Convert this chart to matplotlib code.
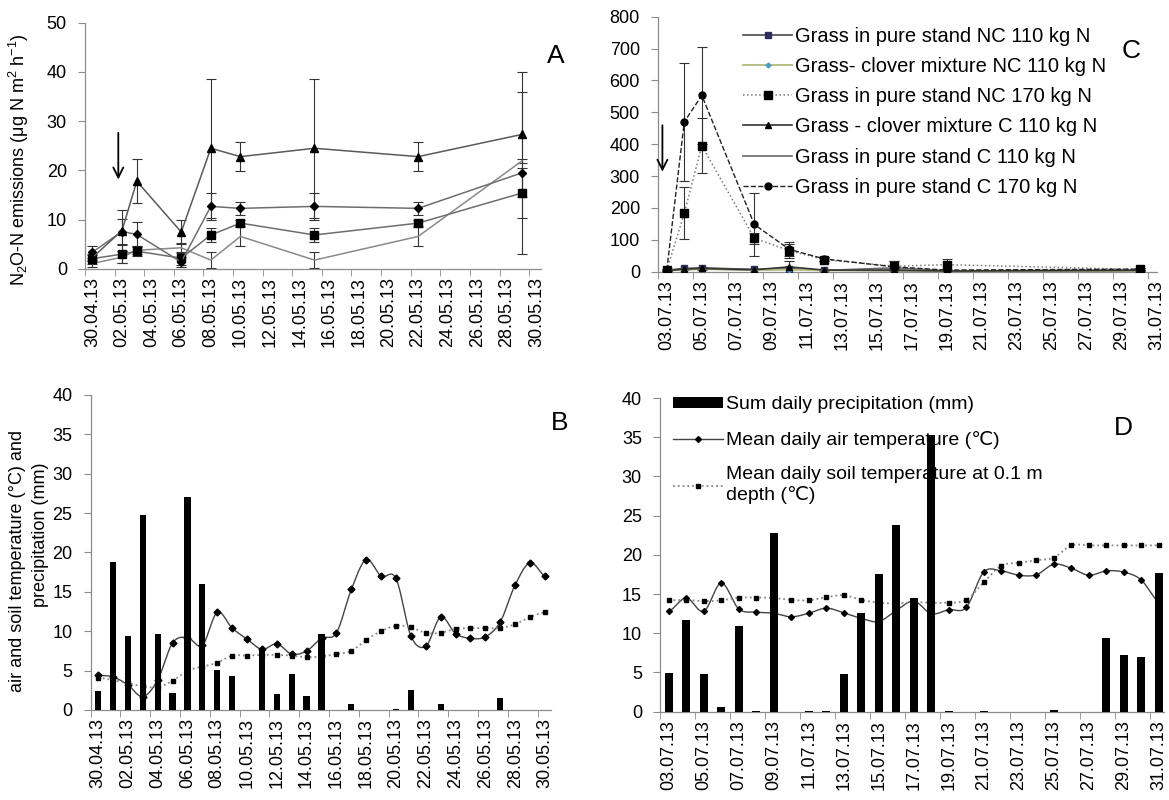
import matplotlib
matplotlib.use('Agg')
import matplotlib.pyplot as plt
import numpy as np
import pandas as pd
from matplotlib.patches import Patch
from matplotlib.lines import Line2D

plt.rcParams['font.family'] = ['Liberation Sans', 'DejaVu Sans']
plt.rcParams['mathtext.fontset'] = 'custom'
plt.rcParams['mathtext.rm'] = 'Liberation Sans'
plt.rcParams['mathtext.it'] = 'Liberation Sans:italic'

# ---- panel A: N2O-N emissions, spring
a_dates = ['30.04.13', '02.05.13', '03.05.13', '06.05.13', '08.05.13',
           '10.05.13', '15.05.13', '22.05.13', '29.05.13']
a_clover_c110 = [2.3, 7.8, 17.8, 7.5, 24.5, 22.8, 24.5, 22.8, 27.3]
a_clover_c110_err = [0.6, 4.2, 4.5, 2.5, 14.1, 2.9, 14.1, 2.9, 12.6]
a_pure_c170 = [3.4, 7.6, 7.0, 1.4, 12.7, 12.3, 12.7, 12.3, 19.5]
a_pure_c170_err = [1.2, 2.6, 2.5, 1.0, 2.7, 1.3, 2.7, 1.3, 16.5]
a_pure_nc170 = [2.1, 3.0, 3.6, 2.2, 6.9, 9.3, 6.9, 9.3, 15.4]
a_pure_nc170_err = [1.0, 1.8, 1.0, 1.3, 1.5, 0.6, 1.5, 0.6, 5.0]
a_pure_c110 = [1.1, 2.4, 3.8, 4.3, 1.8, 6.6, 1.8, 6.6, 21.9]
a_pure_c110_err = [0.8, 1.2, 0.8, 1.0, 1.6, 1.9, 1.6, 1.9, 0.4]

# ---- panel C: N2O-N emissions, summer
c_dates = ['03.07.13', '04.07.13', '05.07.13', '08.07.13', '10.07.13',
           '12.07.13', '16.07.13', '19.07.13', '30.07.13']
c_pure_nc110 = [5, 10, 12, 7, 8, 5, 3, 2, 5]
c_clover_nc110 = [4, 6, 8, 5, 6, 4, 4, 2, 3]
c_pure_nc170 = [5, 183, 395, 105, 66, 38, 17, 22, 7]
c_pure_nc170_err = [2, 82, 87, 17, 22, 5, 15, 18, 3]
c_clover_c110 = [3, 8, 10, 6, 15, 5, 5, 2, 4]
c_clover_c110_err = [1, 3, 4, 2, 20, 2, 3, 1, 2]
c_pure_c110 = [4, 7, 9, 5, 8, 4, 12, 3, 3]
c_pure_c170 = [5, 470, 553, 148, 70, 40, 15, 5, 8]
c_pure_c170_err = [2, 185, 152, 98, 22, 5, 18, 3, 3]
c_labels = ['Grass in pure stand NC 110 kg N',
            'Grass- clover mixture NC 110 kg N',
            'Grass in pure stand NC 170 kg N',
            'Grass - clover mixture C 110 kg N',
            'Grass in pure stand C 110 kg N',
            'Grass in pure stand C 170 kg N']

# ---- panel B: weather 30.04 - 30.05 (daily)
b_precip = [2.4, 18.8, 9.4, 24.7, 9.6, 2.2, 27.0, 16.0, 5.1, 4.3, 0.05, 7.8,
            2.0, 4.6, 1.8, 9.6, 0.05, 0.8, 0, 0, 0.1, 2.5, 0.05, 0.8, 0.05,
            0, 0, 1.5, 0.05, 0, 0]
b_air = [4.4, 4.2, 3.2, 1.7, 3.8, 8.5, 9.2, 8.2, 12.4, 10.4, 9.0, 7.7, 8.4,
         7.1, 7.5, 9.1, 9.8, 15.3, 19.1, 17.0, 16.7, 9.4, 8.1, 11.8, 9.7,
         9.1, 9.3, 11.2, 15.9, 18.7, 17.0]
b_soil = [4.1, 3.8, 3.4, 3.0, 2.9, 3.7, 5.0, 5.5, 6.0, 6.9, 6.9, 7.0, 7.0,
          6.9, 6.7, 6.8, 7.1, 7.5, 8.9, 10.0, 10.7, 10.5, 9.8, 9.8, 10.3,
          10.4, 10.4, 10.4, 10.9, 11.8, 12.4]

# ---- panel D: weather 03.07 - 31.07 (daily)
d_precip = [4.9, 11.7, 4.8, 0.6, 10.9, 0.05, 22.8, 0, 0.05, 0.1, 4.8, 12.6,
            17.6, 23.8, 14.5, 35.3, 0.05, 0, 0.05, 0, 0, 0, 0.2, 0, 0, 9.4,
            7.2, 7.0, 17.7]
d_air = [12.8, 14.5, 12.8, 16.4, 13.1, 12.7, 12.55, 12.1, 12.55, 13.2, 12.6,
         11.9, 11.5, 12.9, 14.1, 12.5, 13.0, 13.3, 17.8, 17.95, 17.4, 17.45,
         18.8, 18.3, 17.4, 17.95, 17.8, 16.8, 14.0]
d_soil = [14.2, 14.25, 14.1, 14.2, 14.55, 14.55, 14.5, 14.25, 14.2, 14.6,
          14.85, 14.25, 13.9, 13.8, 13.95, 13.9, 13.9, 14.25, 16.5, 18.6,
          19.0, 19.3, 19.65, 21.2, 21.2, 21.2, 21.2, 21.2, 21.2]
d_labels = ['Sum daily precipitation (mm)',
            'Mean daily air temperature (\u2103)',
            'Mean daily soil temperature at 0.1 m\ndepth (\u2103)']

SPINE = '#8c8c8c'
TICK_FS = 13


def days_since(dates, first):
    d = pd.to_datetime(dates, format='%d.%m.%y')
    return np.asarray((d - pd.Timestamp(first)).days, dtype=float)


def smooth(x, y, n=16):
    # catmull-rom, roughly what Excel's "smoothed line" does
    x = np.asarray(x, float)
    y = np.asarray(y, float)
    xs, ys = [], []
    t = np.linspace(0, 1, n, endpoint=False)
    for i in range(len(y) - 1):
        p0 = y[i - 1] if i > 0 else y[i]
        p1, p2 = y[i], y[i + 1]
        p3 = y[i + 2] if i + 2 < len(y) else y[i + 1]
        ys.append(0.5 * (2 * p1 + (-p0 + p2) * t
                         + (2 * p0 - 5 * p1 + 4 * p2 - p3) * t ** 2
                         + (-p0 + 3 * p1 - 3 * p2 + p3) * t ** 3))
        xs.append(x[i] + (x[i + 1] - x[i]) * t)
    xs.append([x[-1]])
    ys.append([y[-1]])
    return np.concatenate(xs), np.concatenate(ys)


def style_axes(ax, start, end, first, xlim, ylim, ystep):
    ticks = pd.date_range(start, end, freq='2D')
    pos = np.asarray((ticks - pd.Timestamp(first)).days, dtype=float)
    ax.set_xticks(pos)
    ax.set_xticklabels(ticks.strftime('%d.%m.%y'), rotation=90)
    ax.set_xticks(pos - 0.5, minor=True)
    ax.tick_params(axis='x', which='major', length=0, pad=6, labelsize=TICK_FS)
    ax.tick_params(axis='x', which='minor', length=5, color=SPINE)
    ax.set_yticks(np.arange(ylim[0], ylim[1] + ystep / 2, ystep))
    ax.tick_params(axis='y', length=5, color=SPINE, labelsize=TICK_FS, pad=8)
    ax.set_xlim(*xlim)
    ax.set_ylim(*ylim)
    for s in ['top', 'right']:
        ax.spines[s].set_visible(False)
    for s in ['left', 'bottom']:
        ax.spines[s].set_color(SPINE)
        ax.spines[s].set_linewidth(0.9)


fig = plt.figure(figsize=(11.69, 8), dpi=100)
axA = fig.add_axes([0.0727, 0.6638, 0.3901, 0.3079])
axC = fig.add_axes([0.5629, 0.6604, 0.4269, 0.3188])
axB = fig.add_axes([0.0775, 0.1125, 0.3938, 0.3938])
axD = fig.add_axes([0.5646, 0.1104, 0.4311, 0.3921])

eb = dict(fmt='none', ecolor='#333333', elinewidth=0.8, capsize=3.5,
          capthick=0.8, zorder=2)

# ---------------- A
xa = days_since(a_dates, '2013-04-30')
for vals, err in [(a_clover_c110, a_clover_c110_err), (a_pure_c170, a_pure_c170_err),
                  (a_pure_nc170, a_pure_nc170_err), (a_pure_c110, a_pure_c110_err)]:
    axA.errorbar(xa, vals, yerr=err, **eb)
axA.plot(xa, a_pure_c110, color='#8a8a8a', lw=1.1, zorder=3)
axA.plot(xa, a_pure_nc170, color='#6e6e6e', lw=1.1, marker='s', ms=6,
         mfc='black', mec='black', zorder=4)
axA.plot(xa, a_pure_c170, color='#6e6e6e', lw=1.1, marker='D', ms=4,
         mfc='black', mec='black', zorder=4)
axA.plot(xa, a_clover_c110, color='#5a5a5a', lw=1.1, marker='^', ms=5.5,
         mfc='black', mec='black', zorder=4)
style_axes(axA, '2013-04-30', '2013-05-30', '2013-04-30', (-0.5, 30.3), (0, 50), 10)
axA.annotate('', xy=(1.75, 17.6), xytext=(1.75, 28.2),
             arrowprops=dict(arrowstyle='->', color='black', lw=1.3,
                             mutation_scale=18))

# ---------------- C
xc = days_since(c_dates, '2013-07-03')
axC.errorbar(xc, c_pure_c170, yerr=c_pure_c170_err, **eb)
axC.errorbar(xc, c_pure_nc170, yerr=c_pure_nc170_err, **eb)
axC.errorbar(xc, c_clover_c110, yerr=c_clover_c110_err, **eb)
h1, = axC.plot(xc, c_pure_nc110, color='#4a4a4a', lw=1.2, marker='s', ms=4,
               mfc='#2e2e5a', mec='#2e2e5a', zorder=4)
h2, = axC.plot(xc, c_clover_nc110, color='#b9bf86', lw=1.4, marker='D', ms=2.5,
               mfc='#4a9cc0', mec='#4a9cc0', zorder=4)
h3, = axC.plot(xc, c_pure_nc170, color='#7a7a7a', lw=1.1, ls=':', marker='s',
               ms=6, mfc='black', mec='black', zorder=4)
h4, = axC.plot(xc, c_clover_c110, color='#333333', lw=1.2, marker='^', ms=4.5,
               mfc='black', mec='black', zorder=4)
h5, = axC.plot(xc, c_pure_c110, color='#6a6a6a', lw=1.2, zorder=3)
h6, = axC.plot(xc, c_pure_c170, color='#222222', lw=1.0, ls='--', marker='o',
               ms=5, mfc='black', mec='black', zorder=4)
style_axes(axC, '2013-07-03', '2013-07-31', '2013-07-03', (-0.5, 28.0), (0, 800), 100)
axC.annotate('', xy=(-0.25, 305), xytext=(-0.25, 468),
             arrowprops=dict(arrowstyle='->', color='black', lw=1.3,
                             mutation_scale=18))
axC.legend([h1, h2, h3, h4, h5, h6], c_labels, loc='upper left',
           bbox_to_anchor=(0.155, 0.99), frameon=False, fontsize=14.5,
           handlelength=2.4, handletextpad=0.15, labelspacing=0.55,
           borderaxespad=0)

# ---------------- B
xb = np.arange(len(b_precip), dtype=float)
axB.bar(xb, b_precip, width=0.42, color='black', zorder=3)
sx, sy = smooth(xb, b_air)
axB.plot(sx, sy, color='#444444', lw=1.0, zorder=2)
axB.plot(xb, b_air, ls='none', marker='D', ms=3.5, color='black', zorder=2)
sx, sy = smooth(xb, b_soil)
axB.plot(sx, sy, color='#888888', lw=1.3, ls=':', zorder=2)
axB.plot(xb, b_soil, ls='none', marker='s', ms=3.5, color='black', zorder=2)
style_axes(axB, '2013-04-30', '2013-05-30', '2013-04-30', (-0.5, 30.4), (0, 40), 5)

# ---------------- D
xd = np.arange(len(d_precip), dtype=float)
axD.bar(xd, d_precip, width=0.47, color='black', zorder=3)
sx, sy = smooth(xd, d_air)
axD.plot(sx, sy, color='#444444', lw=1.0, zorder=2)
axD.plot(xd, d_air, ls='none', marker='D', ms=3, color='black', zorder=2)
sx, sy = smooth(xd, d_soil)
axD.plot(sx, sy, color='#888888', lw=1.3, ls=':', zorder=2)
axD.plot(xd, d_soil, ls='none', marker='s', ms=3.5, color='black', zorder=2)
style_axes(axD, '2013-07-03', '2013-07-31', '2013-07-03', (-0.5, 28.3), (0, 40), 5)
d_handles = [Patch(facecolor='black'),
             Line2D([], [], color='#444444', lw=1.0, marker='D', ms=3, mfc='black', mec='black'),
             Line2D([], [], color='#888888', lw=1.3, ls=':', marker='s', ms=3.5,
                    mfc='black', mec='black')]
leg = axD.legend(d_handles, d_labels, loc='upper left', bbox_to_anchor=(0.01, 1.03),
                 frameon=False, fontsize=14, handlelength=2.6, handleheight=0.45,
                 handletextpad=0.15, labelspacing=0.9, borderaxespad=0)
leg.set_zorder(1)

# ---------------- labels
fig.text(0.016, 0.80, r'N$_2$O-N emissions (μg N m$^2$ h$^{-1}$)', rotation=90,
         ha='center', va='center', fontsize=13)
fig.text(0.015, 0.299, 'air and soil temperature (°C) and', rotation=90,
         ha='center', va='center', fontsize=13)
fig.text(0.035, 0.331, 'precipitation (mm)', rotation=90,
         ha='center', va='center', fontsize=13)
fig.text(0.475, 0.93, 'A', fontsize=19, ha='center', va='center')
fig.text(0.9675, 0.936, 'C', fontsize=19, ha='center', va='center')
fig.text(0.479, 0.471, 'B', fontsize=19, ha='center', va='center')
fig.text(0.961, 0.465, 'D', fontsize=19, ha='center', va='center')

fig.savefig('out.png', dpi=100)
